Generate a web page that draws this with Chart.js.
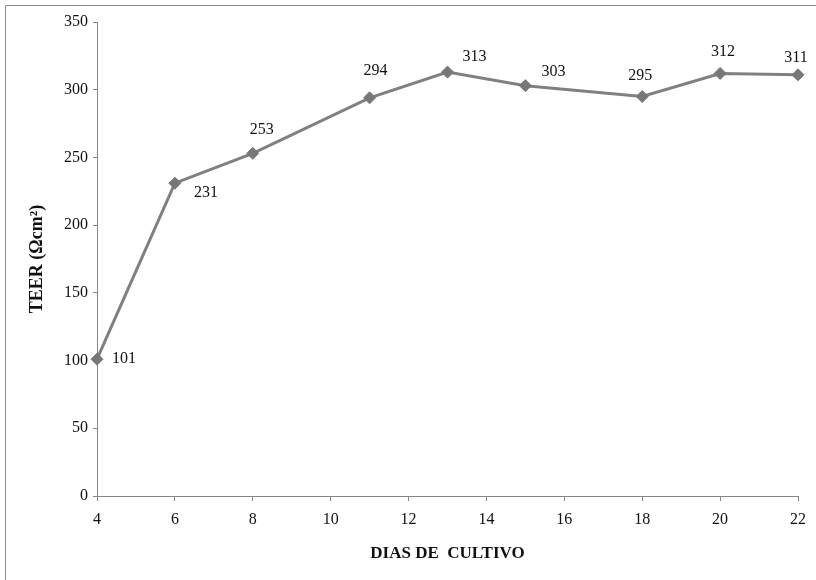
<!DOCTYPE html>
<html lang="pt">
<head>
    <meta charset="UTF-8">
    <title>TEER x dias de cultivo</title>
    <script src="https://cdn.jsdelivr.net/npm/chart.js@4.4.0/dist/chart.umd.min.js"></script>
    <style>
        html, body { margin: 0; padding: 0; background: #fff; }
        canvas { display: block; }
    </style>
</head>
<body>
    <canvas id="teerChart" width="816" height="580"></canvas>

    <script>
        // dados
        const dias = [4, 6, 8, 11, 13, 15, 18, 20, 22];
        const teer = [101, 231, 253, 294, 313, 303, 295, 312, 311];
        const xTicks = [4, 6, 8, 10, 12, 14, 16, 18, 20, 22];
        const yTicks = [0, 50, 100, 150, 200, 250, 300, 350];

        // deslocamento de cada rótulo em relação ao ponto (px)
        const labelOffsets = [[27, 0], [31, 10], [9, -24], [6, -27], [27, -15], [28, -14], [-2, -21], [3, -22], [-2, -17]];

        const axisGray = '#868686';

        const frame = {
            id: 'frame',
            beforeDraw(chart) {
                const ctx = chart.ctx;
                ctx.save();
                ctx.fillStyle = '#fff';
                ctx.fillRect(0, 0, chart.width, chart.height);
                ctx.strokeStyle = '#8c8c8c';
                ctx.lineWidth = 1;
                ctx.beginPath();
                ctx.moveTo(5.5, chart.height);
                ctx.lineTo(5.5, 5.5);
                ctx.lineTo(chart.width, 5.5);
                ctx.stroke();
                ctx.restore();
            }
        };

        const valueLabels = {
            id: 'valueLabels',
            afterDatasetsDraw(chart) {
                const ctx = chart.ctx;
                const meta = chart.getDatasetMeta(0);
                ctx.save();
                ctx.font = '16px "Liberation Serif"';
                ctx.fillStyle = '#111';
                ctx.textAlign = 'center';
                ctx.textBaseline = 'middle';
                meta.data.forEach((pt, i) => {
                    const off = labelOffsets[i];
                    ctx.fillText(String(teer[i]), pt.x + off[0], pt.y + off[1]);
                });
                ctx.restore();
            }
        };

        const ctx = document.getElementById('teerChart').getContext('2d');
        new Chart(ctx, {
            type: 'line',
            data: {
                datasets: [{
                    data: dias.map((d, i) => ({ x: d, y: teer[i] })),
                    borderColor: '#808080',
                    borderWidth: 3,
                    pointStyle: 'rectRot',
                    pointRadius: 6,
                    pointBackgroundColor: '#777',
                    pointBorderColor: '#777',
                    pointBorderWidth: 1,
                    tension: 0,
                    clip: false
                }]
            },
            options: {
                responsive: false,
                animation: false,
                layout: { padding: { left: 0, right: 18, top: 22, bottom: 0 } },
                plugins: {
                    legend: { display: false },
                    tooltip: { enabled: false }
                },
                scales: {
                    x: {
                        type: 'linear',
                        min: 4,
                        max: 22,
                        afterBuildTicks: s => { s.ticks = xTicks.map(v => ({ value: v })); },
                        afterFit: s => { s.height = 84; },
                        grid: { drawOnChartArea: false, drawTicks: true, tickLength: 5, color: axisGray },
                        border: { color: axisGray, width: 1 },
                        ticks: { font: { family: 'Liberation Serif', size: 16 }, color: '#111', padding: 9, maxRotation: 0 },
                        title: {
                            display: true,
                            text: 'DIAS DE  CULTIVO',
                            font: { family: 'Liberation Serif', size: 17, weight: 'bold' },
                            color: '#111',
                            padding: { top: 0, bottom: 16 }
                        }
                    },
                    y: {
                        min: 0,
                        max: 350,
                        afterBuildTicks: s => { s.ticks = yTicks.map(v => ({ value: v })); },
                        afterFit: s => { s.width = 97; },
                        grid: { drawOnChartArea: false, drawTicks: true, tickLength: 4, color: axisGray },
                        border: { color: axisGray, width: 1 },
                        ticks: { font: { family: 'Liberation Serif', size: 16 }, color: '#111', padding: 5 },
                        title: {
                            display: true,
                            text: 'TEER (Ωcm²)',
                            font: { family: 'Liberation Serif', size: 18, weight: 'bold' },
                            color: '#111',
                            padding: { top: 27, bottom: 0 }
                        }
                    }
                }
            },
            plugins: [frame, valueLabels]
        });
    </script>
</body>
</html>
